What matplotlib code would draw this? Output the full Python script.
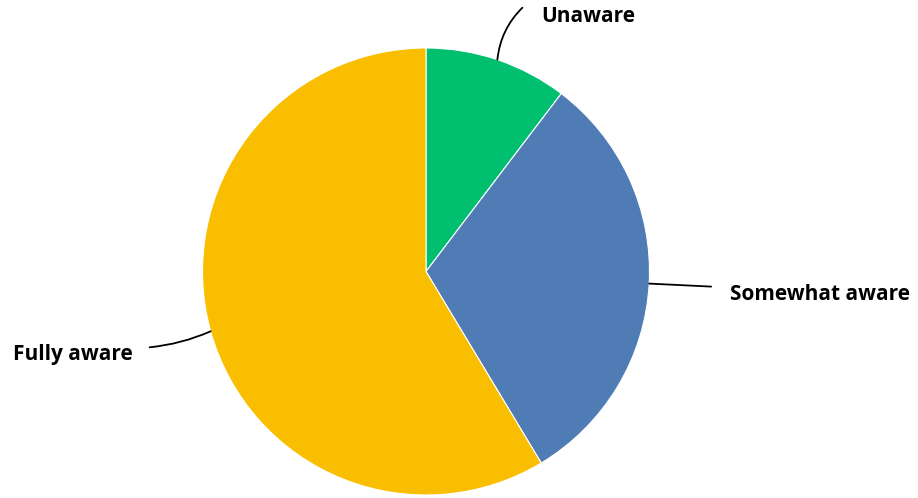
import matplotlib
matplotlib.use("Agg")
import matplotlib.pyplot as plt
import numpy as np

# data
categories = ["Unaware", "Somewhat aware", "Fully aware"]
responses = [3, 9, 17]
colours = ["#00BF6F", "#507CB6", "#F9BE00"]

W, H = 918, 498
fig = plt.figure(figsize=(W / 100, H / 100), dpi=100)
ax = fig.add_axes([0, 0, 1, 1])

cx, cy, r = 426, H - 271.5, 223.5

wedges, _ = ax.pie(
    responses,
    colors=colours,
    startangle=90,
    counterclock=False,
    radius=r,
    center=(cx, cy),
    frame=True,
    wedgeprops=dict(linewidth=0.8, edgecolor="white"),
)
ax.set_xlim(0, W)
ax.set_ylim(0, H)
ax.axis("off")

# label layout: (line end offset from slice edge, text offset from line end, ha, curvature)
label_style = [
    ((25, 52), (19, -9), "left", 0.18),
    ((62, -3), (19, -8), "left", 0.0),
    ((-61, -16), (-17, -7), "right", 0.08),
]

for w, name, (end_off, txt_off, ha, rad) in zip(wedges, categories, label_style):
    mid = np.deg2rad((w.theta1 + w.theta2) / 2)
    ax_pt = (cx + r * np.cos(mid), cy + r * np.sin(mid))
    end = (ax_pt[0] + end_off[0], ax_pt[1] + end_off[1])
    ax.annotate(
        "",
        xy=ax_pt,
        xytext=end,
        arrowprops=dict(arrowstyle="-", color="black", linewidth=1.3,
                        connectionstyle=f"arc3,rad={rad}",
                        shrinkA=0, shrinkB=0),
    )
    ax.text(end[0] + txt_off[0], end[1] + txt_off[1], name,
            ha=ha, va="center", fontsize=15, fontweight="bold",
            family=["Open Sans", "DejaVu Sans"], color="black")

plt.savefig("out.png", dpi=100)
